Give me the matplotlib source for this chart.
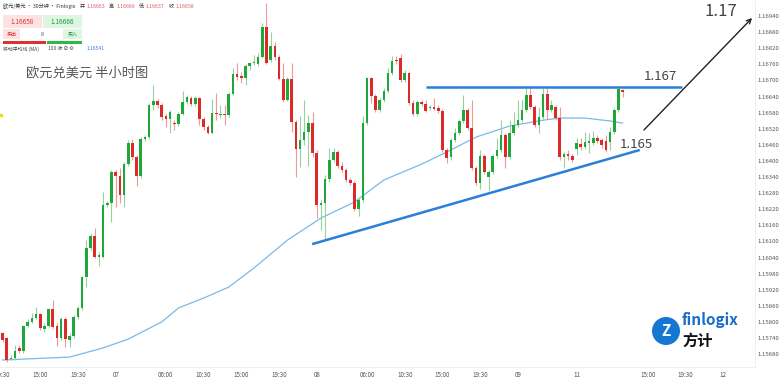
import numpy as np
import matplotlib
matplotlib.use("Agg")
import matplotlib.pyplot as plt
from matplotlib.patches import Rectangle, Circle

plt.rcParams['font.family'] = ['Noto Sans CJK SC', 'DejaVu Sans']

# EUR/USD 30 min candles
opens = [
    1.15759, 1.15740, 1.15662, 1.15665, 1.15703, 1.15691, 1.15785, 1.15800, 1.15814, 1.15829,
    1.15773, 1.15785, 1.15848, 1.15785, 1.15740, 1.15811, 1.15732, 1.15747, 1.15818, 1.15852,
    1.15967, 1.16075, 1.16120, 1.16042, 1.16042, 1.16236, 1.16243, 1.16359, 1.16344, 1.16273,
    1.16388, 1.16467, 1.16415, 1.16344, 1.16482, 1.16489, 1.16608, 1.16623, 1.16608, 1.16567,
    1.16556, 1.16541, 1.16537, 1.16575, 1.16619, 1.16634, 1.16612, 1.16634, 1.16556, 1.16526,
    1.16504, 1.16578, 1.16571, 1.16575, 1.16571, 1.16649, 1.16724, 1.16716, 1.16709, 1.16754,
    1.16765, 1.16761, 1.16787, 1.16899, 1.16776, 1.16828, 1.16787, 1.16705, 1.16627, 1.16705,
    1.16545, 1.16444, 1.16478, 1.16508, 1.16541, 1.16429, 1.16236, 1.16243, 1.16332, 1.16403,
    1.16433, 1.16381, 1.16366, 1.16329, 1.16318, 1.16221, 1.16254, 1.16541, 1.16709, 1.16642,
    1.16590, 1.16627, 1.16660, 1.16728, 1.16776, 1.16783, 1.16701, 1.16728, 1.16616, 1.16575,
    1.16619, 1.16612, 1.16597, 1.16601, 1.16597, 1.16586, 1.16441, 1.16415, 1.16478, 1.16504,
    1.16549, 1.16590, 1.16523, 1.16374, 1.16318, 1.16418, 1.16340, 1.16359, 1.16418, 1.16441,
    1.16496, 1.16415, 1.16504, 1.16534, 1.16552, 1.16590, 1.16646, 1.16601, 1.16534, 1.16564,
    1.16649, 1.16590, 1.16601, 1.16560, 1.16415, 1.16426, 1.16418, 1.16444, 1.16463, 1.16452,
    1.16467, 1.16467, 1.16485, 1.16478, 1.16474, 1.16470, 1.16508, 1.16590, 1.16663,
]
highs = [
    1.15762, 1.15744, 1.15677, 1.15714, 1.15714, 1.15788, 1.15811, 1.15833, 1.15855, 1.15833,
    1.15796, 1.15852, 1.15881, 1.15796, 1.15818, 1.15818, 1.15759, 1.15826, 1.15859, 1.15971,
    1.16105, 1.16131, 1.16150, 1.16060, 1.16284, 1.16250, 1.16366, 1.16366, 1.16374, 1.16396,
    1.16478, 1.16482, 1.16422, 1.16489, 1.16496, 1.16616, 1.16683, 1.16631, 1.16616, 1.16575,
    1.16590, 1.16552, 1.16582, 1.16660, 1.16646, 1.16642, 1.16642, 1.16638, 1.16564, 1.16534,
    1.16631, 1.16653, 1.16608, 1.16608, 1.16657, 1.16746, 1.16765, 1.16731, 1.16761, 1.16769,
    1.16795, 1.16802, 1.16914, 1.16988, 1.16880, 1.16843, 1.16795, 1.16765, 1.16713, 1.16765,
    1.16552, 1.16567, 1.16627, 1.16571, 1.16582, 1.16441, 1.16254, 1.16347, 1.16448, 1.16448,
    1.16441, 1.16396, 1.16374, 1.16336, 1.16325, 1.16262, 1.16567, 1.16713, 1.16713, 1.16649,
    1.16634, 1.16672, 1.16746, 1.16791, 1.16791, 1.16798, 1.16739, 1.16731, 1.16627, 1.16627,
    1.16627, 1.16627, 1.16608, 1.16634, 1.16608, 1.16593, 1.16448, 1.16485, 1.16523, 1.16556,
    1.16646, 1.16597, 1.16627, 1.16381, 1.16441, 1.16426, 1.16366, 1.16426, 1.16485, 1.16552,
    1.16504, 1.16552, 1.16582, 1.16627, 1.16627, 1.16675, 1.16675, 1.16608, 1.16601, 1.16672,
    1.16672, 1.16627, 1.16608, 1.16601, 1.16433, 1.16441, 1.16426, 1.16485, 1.16485, 1.16508,
    1.16504, 1.16511, 1.16496, 1.16485, 1.16496, 1.16526, 1.16597, 1.16672, 1.16669,
]
lows = [
    1.15725, 1.15650, 1.15658, 1.15658, 1.15684, 1.15684, 1.15781, 1.15796, 1.15811, 1.15770,
    1.15762, 1.15781, 1.15777, 1.15710, 1.15732, 1.15706, 1.15706, 1.15740, 1.15811, 1.15844,
    1.15930, 1.16068, 1.16038, 1.16008, 1.16038, 1.16228, 1.16172, 1.16228, 1.16243, 1.16228,
    1.16381, 1.16403, 1.16306, 1.16336, 1.16474, 1.16482, 1.16590, 1.16597, 1.16552, 1.16526,
    1.16504, 1.16515, 1.16530, 1.16571, 1.16612, 1.16605, 1.16605, 1.16534, 1.16515, 1.16500,
    1.16500, 1.16552, 1.16560, 1.16534, 1.16564, 1.16646, 1.16701, 1.16690, 1.16683, 1.16739,
    1.16757, 1.16754, 1.16783, 1.16761, 1.16769, 1.16776, 1.16701, 1.16619, 1.16623, 1.16508,
    1.16340, 1.16377, 1.16459, 1.16381, 1.16415, 1.16187, 1.16142, 1.16109, 1.16321, 1.16396,
    1.16374, 1.16359, 1.16321, 1.16310, 1.16213, 1.16195, 1.16247, 1.16534, 1.16616, 1.16582,
    1.16582, 1.16619, 1.16653, 1.16720, 1.16761, 1.16694, 1.16694, 1.16608, 1.16567, 1.16567,
    1.16605, 1.16582, 1.16590, 1.16590, 1.16578, 1.16433, 1.16392, 1.16403, 1.16470, 1.16496,
    1.16541, 1.16515, 1.16366, 1.16310, 1.16295, 1.16351, 1.16292, 1.16351, 1.16411, 1.16433,
    1.16374, 1.16407, 1.16496, 1.16526, 1.16545, 1.16582, 1.16593, 1.16526, 1.16504, 1.16556,
    1.16556, 1.16582, 1.16552, 1.16403, 1.16374, 1.16403, 1.16396, 1.16422, 1.16441, 1.16444,
    1.16429, 1.16459, 1.16467, 1.16448, 1.16433, 1.16441, 1.16500, 1.16582, 1.16637,
]
closes = [
    1.15732, 1.15658, 1.15665, 1.15691, 1.15691, 1.15785, 1.15800, 1.15814, 1.15829, 1.15777,
    1.15785, 1.15848, 1.15781, 1.15740, 1.15811, 1.15736, 1.15747, 1.15818, 1.15852, 1.15967,
    1.16075, 1.16120, 1.16042, 1.16049, 1.16236, 1.16243, 1.16359, 1.16344, 1.16273, 1.16388,
    1.16467, 1.16415, 1.16344, 1.16482, 1.16489, 1.16608, 1.16623, 1.16608, 1.16564, 1.16556,
    1.16582, 1.16537, 1.16575, 1.16619, 1.16638, 1.16612, 1.16634, 1.16556, 1.16526, 1.16504,
    1.16578, 1.16575, 1.16575, 1.16571, 1.16649, 1.16724, 1.16713, 1.16709, 1.16754, 1.16765,
    1.16769, 1.16787, 1.16899, 1.16765, 1.16828, 1.16787, 1.16705, 1.16627, 1.16705, 1.16545,
    1.16444, 1.16478, 1.16508, 1.16541, 1.16429, 1.16236, 1.16243, 1.16332, 1.16403, 1.16433,
    1.16381, 1.16366, 1.16329, 1.16318, 1.16221, 1.16254, 1.16541, 1.16709, 1.16642, 1.16590,
    1.16627, 1.16660, 1.16728, 1.16772, 1.16772, 1.16701, 1.16728, 1.16616, 1.16575, 1.16619,
    1.16612, 1.16586, 1.16601, 1.16593, 1.16586, 1.16441, 1.16411, 1.16478, 1.16504, 1.16549,
    1.16590, 1.16523, 1.16374, 1.16318, 1.16418, 1.16359, 1.16359, 1.16418, 1.16441, 1.16496,
    1.16415, 1.16504, 1.16534, 1.16552, 1.16590, 1.16646, 1.16601, 1.16534, 1.16564, 1.16649,
    1.16590, 1.16608, 1.16560, 1.16415, 1.16426, 1.16418, 1.16403, 1.16467, 1.16452, 1.16470,
    1.16474, 1.16485, 1.16474, 1.16459, 1.16441, 1.16508, 1.16590, 1.16668, 1.16658,
]

# MA(100) read at a few candle positions
ma_idx = [0, 16, 24, 30, 38, 42, 48, 54, 60, 68, 76, 84, 91, 100, 107, 113, 121, 129, 133, 139, 145, 148]
ma_vals = [1.15658, 1.15669, 1.15703, 1.15736, 1.15800, 1.15852, 1.15889, 1.15930, 1.16001, 1.16105,
           1.16187, 1.16247, 1.16329, 1.16388, 1.16441, 1.16489, 1.16530, 1.16552, 1.16560, 1.16560,
           1.16549, 1.16541]

# hand drawn trend lines (candle index, price)
support_x = [73.9, 152.1]
support_y = [1.16090, 1.16441]
resist_x = [101.1, 162.2]
resist_y = [1.16675, 1.16675]

tick_pos = [0, 9, 18, 27, 39, 48, 57, 66, 75, 87, 96, 105, 114, 123, 137, 154, 163, 172]
tick_labels = ["10:30", "15:00", "19:30", "07", "06:00", "10:30", "15:00", "19:30", "08",
               "06:00", "10:30", "15:00", "19:30", "09", "11", "15:00", "19:30", "12"]
ytick_vals = [1.15680, 1.15740, 1.15800, 1.15860, 1.15920, 1.15980, 1.16040, 1.16100,
              1.16160, 1.16220, 1.16280, 1.16340, 1.16400, 1.16460, 1.16520, 1.16580,
              1.16640, 1.16700, 1.16760, 1.16820, 1.16880, 1.16940]

W, H = 780, 381
fig = plt.figure(figsize=(7.8, 3.81), dpi=100)
ax = fig.add_axes([0, 14 / H, 755 / W, 367 / H])

o = np.array(opens); c = np.array(closes)
hi = np.array(highs); lo = np.array(lows)
x = np.arange(len(c))
up = c >= o
bottom = np.minimum(o, c)
height = np.maximum(np.abs(c - o), 0.000018)

ax.vlines(x[up], lo[up], hi[up], color="#93d3a0", lw=0.8, zorder=2)
ax.vlines(x[~up], lo[~up], hi[~up], color="#ee9a9a", lw=0.8, zorder=2)
ax.bar(x[up], height[up], bottom=bottom[up], width=0.62, color="#1fa83a", lw=0, zorder=3)
ax.bar(x[~up], height[~up], bottom=bottom[~up], width=0.62, color="#dc2a2a", lw=0, zorder=3)

ax.plot(ma_idx, ma_vals, color="#7db9e4", lw=0.9, zorder=1)

ax.plot(support_x, support_y, color="#2a7fd6", lw=1.8, solid_capstyle="butt", zorder=4)
ax.plot(resist_x, resist_y, color="#2a7fd6", lw=1.8, solid_capstyle="butt", zorder=4)

ax.set_xlim(-0.6, -0.6 + 755 / 4.19)
ax.set_ylim(1.15632, 1.17000)
ax.set_xticks(tick_pos)
ax.set_xticklabels(tick_labels)
ax.yaxis.tick_right()
ax.set_yticks(ytick_vals)
ax.set_yticklabels(["%.5f" % v for v in ytick_vals])
ax.tick_params(axis="y", length=0, pad=2, labelsize=4.3, labelcolor="#555555")
ax.tick_params(axis="x", length=0, pad=3, labelsize=4.5, labelcolor="#555555")
for s in ["top", "left"]:
    ax.spines[s].set_visible(False)
for s in ["bottom", "right"]:
    ax.spines[s].set_color("#eeeeee")
    ax.spines[s].set_linewidth(0.6)

# overlay in pixel coordinates for the header, notes and logo
ov = fig.add_axes([0, 0, 1, 1], zorder=5)
ov.set_xlim(0, W)
ov.set_ylim(H, 0)
ov.axis("off")
ov.patch.set_alpha(0)

renderer = fig.canvas.get_renderer()
header = [("欧元/美元 · 30分钟 · Finlogix", "#333333", 4), ("开", "#333333", 2), ("1.16663", "#e05a64", 4),
          ("高", "#333333", 2), ("1.16669", "#e05a64", 4), ("低", "#333333", 2),
          ("1.16637", "#e05a64", 4), ("收", "#333333", 2), ("1.16658", "#e05a64", 4)]
hx = 3
for s, col, gap in header:
    t = ov.text(hx, 6, s, fontsize=3.7, color=col, va="center")
    hx = t.get_window_extent(renderer).x1 + gap

ov.add_patch(Rectangle((3, 15), 39, 13, color="#fde2e2", lw=0))
ov.add_patch(Rectangle((43, 15), 39, 13, color="#def5e2", lw=0))
ov.text(22.5, 21.5, "1.16658", fontsize=4.6, color="#e0303a", ha="center", va="center")
ov.text(62.5, 21.5, "1.16666", fontsize=4.6, color="#1a9a3a", ha="center", va="center")
ov.add_patch(Rectangle((3, 29), 17, 10, color="#fde2e2", lw=0))
ov.add_patch(Rectangle((63, 29), 19, 10, color="#def5e2", lw=0))
ov.text(11.5, 34, "卖出", fontsize=3.6, color="#e0303a", ha="center", va="center")
ov.text(42, 34, "8", fontsize=3.8, color="#555555", ha="center", va="center")
ov.text(72.5, 34, "买入", fontsize=3.6, color="#1a9a3a", ha="center", va="center")
ov.add_patch(Rectangle((3, 41), 43, 2.5, color="#e03030", lw=0))
ov.add_patch(Rectangle((47, 41), 35, 2.5, color="#2db84a", lw=0))
ov.text(3, 49, "移动平均线 (MA)", fontsize=3.5, color="#444444", va="center")
ov.text(48, 49, "100 收 ⊘ ⚙", fontsize=3.5, color="#444444", va="center")
ov.text(87, 49, "1.16541", fontsize=3.6, color="#3a7fd0", va="center")

ov.text(26, 72.5, "欧元兑美元 半小时图", fontsize=9.5, color="#555555", va="center")
ov.plot([0.5], [115], "o", ms=1.5, color="#e8e000")

ov.text(644, 77, "1.167", fontsize=9.5, color="#444444", va="center")
ov.text(620, 145, "1.165", fontsize=9.5, color="#444444", va="center")
ov.text(704, 12, "1.17", fontsize=12, color="#444444", va="center")
ov.annotate("", xy=(754, 16), xytext=(642, 132),
            arrowprops=dict(arrowstyle="->", color="#222222", lw=1.0, mutation_scale=8))

ov.add_patch(Circle((666, 331), 14, color="#1577d2", lw=0))
ov.text(666, 331, "Z", fontsize=11, color="white", fontweight="bold", ha="center", va="center")
ov.text(682, 320, "finlogix", fontsize=11, color="#1a6fc4", fontweight="bold", va="center")
ov.text(682, 341, "方计", fontsize=11, color="#111111", fontweight="bold", va="center")

fig.savefig("out.png", dpi=100)
